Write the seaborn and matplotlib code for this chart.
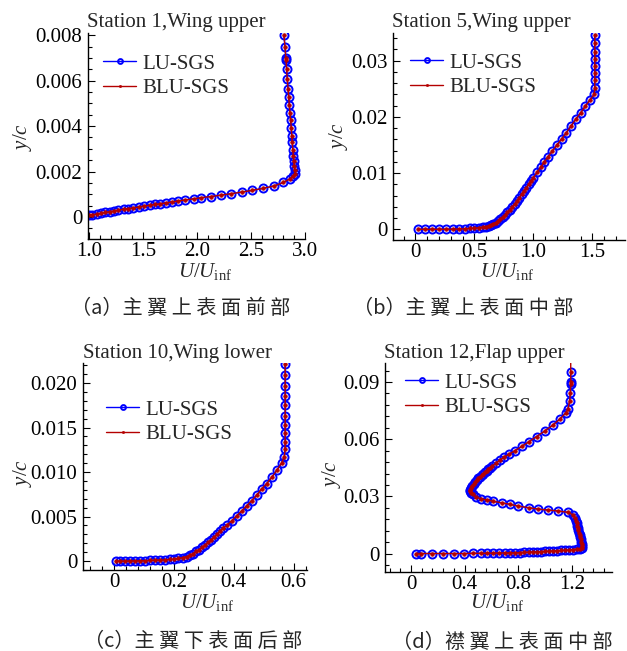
import matplotlib.pyplot as plt
import seaborn as sns
from matplotlib.ticker import MultipleLocator

sns.set_theme(style='ticks')
plt.rcParams['font.family'] = ['Liberation Serif', 'DejaVu Serif']
plt.rcParams['mathtext.fontset'] = 'custom'
plt.rcParams['mathtext.rm'] = 'Liberation Serif'
plt.rcParams['mathtext.it'] = 'Liberation Serif:italic'

# Station 1, wing upper (U/Uinf, y/c)
u_st1 = [1.00, 1.03, 1.07, 1.11, 1.15, 1.19, 1.23, 1.27, 1.32, 1.36,
         1.41, 1.46, 1.51, 1.56, 1.61, 1.66, 1.71, 1.77, 1.82, 1.89,
         1.97, 2.04, 2.13, 2.22, 2.31, 2.42, 2.51, 2.61, 2.71, 2.80,
         2.86, 2.89, 2.905,
         2.905, 2.900, 2.896, 2.892, 2.887, 2.882, 2.877, 2.873, 2.867, 2.861,
         2.855, 2.849, 2.843, 2.836, 2.830, 2.825, 2.822, 2.815, 2.805]
y_st1 = [0.00008, 0.0001, 0.00013, 0.00016, 0.0002, 0.00023, 0.00026, 0.0003, 0.00034, 0.00037,
         0.0004, 0.00044, 0.00048, 0.00051, 0.00055, 0.00058, 0.00062, 0.00066, 0.0007, 0.00075,
         0.0008, 0.00085, 0.0009, 0.00096, 0.00102, 0.0011, 0.00117, 0.00126, 0.00136, 0.00152,
         0.00168, 0.00181, 0.0019,
         0.00205, 0.00223, 0.00245, 0.0027, 0.00296, 0.00329, 0.00358, 0.00392, 0.00426, 0.00458,
         0.00491, 0.00528, 0.00564, 0.00606, 0.0065, 0.00689, 0.00701, 0.00748, 0.008]

# Station 5, wing upper
u_st5 = [0.02, 0.08, 0.14, 0.20, 0.26, 0.32, 0.37, 0.42, 0.46, 0.50, 0.54, 0.57, 0.60,
         0.62, 0.64, 0.66, 0.68, 0.70, 0.72, 0.74, 0.76, 0.78, 0.80, 0.82, 0.84, 0.86,
         0.88, 0.90, 0.92, 0.94, 0.96, 0.98, 1.00, 1.03, 1.06, 1.09, 1.12, 1.16, 1.20,
         1.24, 1.28, 1.32, 1.36, 1.40, 1.44, 1.48, 1.515,
         1.52, 1.52, 1.52, 1.52, 1.52, 1.52, 1.52, 1.52]
y_st5 = [0.0, 0.0, 0.0, 0.0, 0.0, 0.00003, 0.00006, 0.0001, 0.00015, 0.0002, 0.0003, 0.0004, 0.0005,
         0.0006, 0.0008, 0.001, 0.0012, 0.0015, 0.0018, 0.0022, 0.0026, 0.003, 0.0035, 0.004, 0.0045, 0.005,
         0.0056, 0.0062, 0.0068, 0.0074, 0.008, 0.0086, 0.0092, 0.0101, 0.011, 0.0119, 0.0128, 0.0139, 0.015,
         0.0161, 0.0172, 0.0184, 0.0196, 0.0207, 0.0219, 0.023, 0.024,
         0.0252, 0.0265, 0.0278, 0.029, 0.0303, 0.0316, 0.0331, 0.0346]

# Station 10, wing lower
u_st10 = [0.005, 0.02, 0.037, 0.053, 0.07, 0.086, 0.103, 0.12, 0.136, 0.153, 0.17, 0.187, 0.2,
          0.215, 0.23, 0.243, 0.255, 0.265, 0.275, 0.285, 0.295, 0.305, 0.315, 0.325, 0.335,
          0.345, 0.355, 0.365, 0.376, 0.393, 0.41, 0.426, 0.443, 0.46, 0.477, 0.493, 0.51,
          0.527, 0.544, 0.56, 0.569,
          0.572, 0.572, 0.572, 0.572, 0.572, 0.572, 0.572, 0.572, 0.572, 0.572]
y_st10 = [0.0, 0.0, 0.0, 0.00002, 0.00003, 0.00004, 0.00005, 0.00007, 0.0001, 0.00012, 0.00015, 0.00018, 0.0002,
          0.0003, 0.0004, 0.0005, 0.00065, 0.00085, 0.0011, 0.0013, 0.00155, 0.0018, 0.0021, 0.0024, 0.0027,
          0.003, 0.0034, 0.0037, 0.004, 0.0045, 0.0051, 0.0056, 0.0062, 0.0068, 0.0074, 0.0081, 0.0087,
          0.0094, 0.0102, 0.011, 0.0117,
          0.0126, 0.0134, 0.0144, 0.0153, 0.0163, 0.0175, 0.0185, 0.0197, 0.0209, 0.0221]

# Station 12, flap upper
u_st12 = [0.037, 0.075, 0.154, 0.236, 0.321, 0.395, 0.462, 0.52, 0.569, 0.614, 0.659, 0.70,
          0.739, 0.775, 0.81, 0.845, 0.88, 0.91, 0.94, 0.97, 1.0, 1.03, 1.06, 1.09, 1.12,
          1.15, 1.18, 1.21, 1.24, 1.26, 1.275,
          1.277, 1.274, 1.27, 1.266, 1.262, 1.258, 1.254, 1.25, 1.246, 1.242, 1.238, 1.232, 1.222, 1.21,
          1.174, 1.099, 1.025, 0.95, 0.88, 0.801, 0.739, 0.677, 0.614, 0.565, 0.52, 0.485, 0.46, 0.445, 0.437,
          0.44, 0.447, 0.456, 0.467, 0.478, 0.49, 0.503, 0.515, 0.528, 0.54, 0.553, 0.565, 0.578,
          0.59, 0.602, 0.633, 0.664, 0.694, 0.734, 0.776, 0.826, 0.88, 0.938, 1.0, 1.06, 1.115,
          1.155, 1.17, 1.183, 1.19, 1.192, 1.192, 1.192]
y_st12 = [0.0, 0.0, 0.0, 0.0, 0.0, 0.0, 0.0001, 0.0001, 0.0002, 0.0002, 0.0003, 0.0003,
          0.0004, 0.0004, 0.0005, 0.0006, 0.0007, 0.0008, 0.0009, 0.001, 0.0011, 0.0012, 0.0013, 0.0014, 0.0016,
          0.0017, 0.0019, 0.0021, 0.0023, 0.0025, 0.0028,
          0.0038, 0.005, 0.0062, 0.0074, 0.0086, 0.0098, 0.011, 0.0122, 0.0134, 0.0146, 0.0158, 0.0172, 0.0188, 0.0202,
          0.0216, 0.0223, 0.0228, 0.0233, 0.024, 0.0249, 0.0258, 0.0266, 0.0274, 0.0281, 0.0288, 0.0298, 0.031, 0.0319, 0.0328,
          0.0336, 0.0346, 0.0356, 0.0366, 0.0377, 0.0386, 0.0395, 0.0403, 0.0411, 0.0419, 0.0427, 0.0435, 0.0443,
          0.045, 0.0457, 0.0474, 0.0491, 0.0506, 0.0522, 0.054, 0.0562, 0.0587, 0.0614, 0.0644, 0.0675, 0.0708,
          0.0738, 0.0756, 0.0798, 0.0845, 0.0888, 0.0898, 0.0953]
# BLU-SGS line runs on to the top of the axis at station 12
u_st12_top = [1.192]
y_st12_top = [0.1]

titles = ['Station 1,Wing upper', 'Station 5,Wing upper', 'Station 10,Wing lower', 'Station 12,Flap upper']
captions = ['（a）主 翼 上 表 面 前 部', '（b）主 翼 上 表 面 中 部',
            '（c）主 翼 下 表 面 后 部', '（d）襟 翼 上 表 面 中 部']

xticks = [[1.0, 1.5, 2.0, 2.5, 3.0], [0, 0.5, 1.0, 1.5], [0, 0.2, 0.4, 0.6], [0, 0.4, 0.8, 1.2]]
xticklabels = [['1.0', '1.5', '2.0', '2.5', '3.0'], ['0', '0.5', '1.0', '1.5'],
               ['0', '0.2', '0.4', '0.6'], ['0', '0.4', '0.8', '1.2']]
yticks = [[0, 0.002, 0.004, 0.006, 0.008], [0, 0.01, 0.02, 0.03],
          [0, 0.005, 0.01, 0.015, 0.02], [0, 0.03, 0.06, 0.09]]
yticklabels = [['0', '0.002', '0.004', '0.006', '0.008'], ['0', '0.01', '0.02', '0.03'],
               ['0', '0.005', '0.010', '0.015', '0.020'], ['0', '0.03', '0.06', '0.09']]

W, H = 627, 651
fig = plt.figure(figsize=(W / 100, H / 100), dpi=100)
fig.patch.set_facecolor('white')


def fx(x):
    return x / W


def fy(y):
    return 1 - y / H


# layout in pixels: axes box (l, t, r, b), limits, minor steps, text anchors
panels = [
    dict(box=(88, 33, 305, 239), xlim=(0.99, 3.0), ylim=(-0.00097, 0.0081), xmin=0.1, ymin=0.0005,
         leg=(103, 54), title=(87, 27), ylab=(23, 137), xlab=(205, 277), cap=(181, 308)),
    dict(box=(393, 33, 625, 240), xlim=(-0.19, 1.776), ylim=(-0.0019, 0.0349), xmin=0.1, ymin=0.002,
         leg=(410, 53), title=(392, 27), ylab=(338, 136), xlab=(507, 277), cap=(463, 308)),
    dict(box=(83, 363, 307, 570), xlim=(-0.104, 0.645), ylim=(-0.001, 0.02225), xmin=0.04, ymin=0.001,
         leg=(106, 400), title=(83, 358), ylab=(22, 473), xlab=(207, 608), cap=(193, 641)),
    dict(box=(385, 363, 612, 572), xlim=(-0.194, 1.5), ylim=(-0.0097, 0.1), xmin=0.08, ymin=0.006,
         leg=(405, 373), title=(384, 358), ylab=(332, 474), xlab=(497, 608), cap=(502, 642)),
]
series = [(u_st1, y_st1), (u_st5, y_st5), (u_st10, y_st10), (u_st12, y_st12)]

for i, (p, (u, y)) in enumerate(zip(panels, series)):
    l, t, r, b = p['box']
    ax = fig.add_axes([fx(l), fy(b), (r - l) / W, (b - t) / H])
    ax.set_facecolor('white')

    sns.lineplot(x=u, y=y, sort=False, estimator=None, ax=ax, color='#0000ff', lw=1.0,
                 marker='o', ms=5.8, mfc='none', mec='#0000ff', mew=1.4, label='LU-SGS')
    ub, yb = list(u), list(y)
    if i == 3:
        ub += u_st12_top
        yb += y_st12_top
    sns.lineplot(x=ub, y=yb, sort=False, estimator=None, ax=ax, color='#b40000', lw=1.0,
                 marker='o', ms=2.6, mfc='#b40000', mec='#b40000', mew=0.5,
                 markevery=list(range(len(u))), label='BLU-SGS')

    ax.set_xlim(*p['xlim'])
    ax.set_ylim(*p['ylim'])
    ax.set_xticks(xticks[i], xticklabels[i])
    ax.set_yticks(yticks[i], yticklabels[i])
    ax.xaxis.set_minor_locator(MultipleLocator(p['xmin']))
    ax.yaxis.set_minor_locator(MultipleLocator(p['ymin']))
    ax.tick_params(which='both', direction='in', top=False, right=False, colors='black',
                   labelsize=15, width=0.8)
    ax.tick_params(which='major', length=5)
    ax.tick_params(which='minor', length=3)
    ax.tick_params(axis='x', pad=2)
    ax.tick_params(axis='y', pad=4)
    for s in ['top', 'right']:
        ax.spines[s].set_visible(False)
    for s in ['left', 'bottom']:
        ax.spines[s].set_color('black')
        ax.spines[s].set_linewidth(1.0)
    ax.set_xlabel('')
    ax.set_ylabel('')

    lx, ly = p['leg']
    ax.legend(loc='upper left', bbox_to_anchor=(fx(lx), fy(ly)), bbox_transform=fig.transFigure,
              frameon=False, fontsize=15, handlelength=1.6, handletextpad=0.3, borderpad=0,
              borderaxespad=0, labelspacing=0.25, markerscale=0.6)

    tx, ty = p['title']
    fig.text(fx(tx), fy(ty), titles[i], ha='left', va='baseline', fontsize=15)
    yx, yy = p['ylab']
    fig.text(fx(yx), fy(yy), r'$y/c$', rotation=90, ha='center', va='center', fontsize=15)
    xx, xy = p['xlab']
    fig.text(fx(xx), fy(xy), r'$U/U_{\rm inf}$', ha='center', va='baseline', fontsize=15)
    cx, cy = p['cap']
    fig.text(fx(cx), fy(cy), captions[i], ha='center', va='center', fontsize=14.5,
             family=['Noto Sans CJK SC', 'DejaVu Sans'])

fig.savefig('out.png', dpi=100)
